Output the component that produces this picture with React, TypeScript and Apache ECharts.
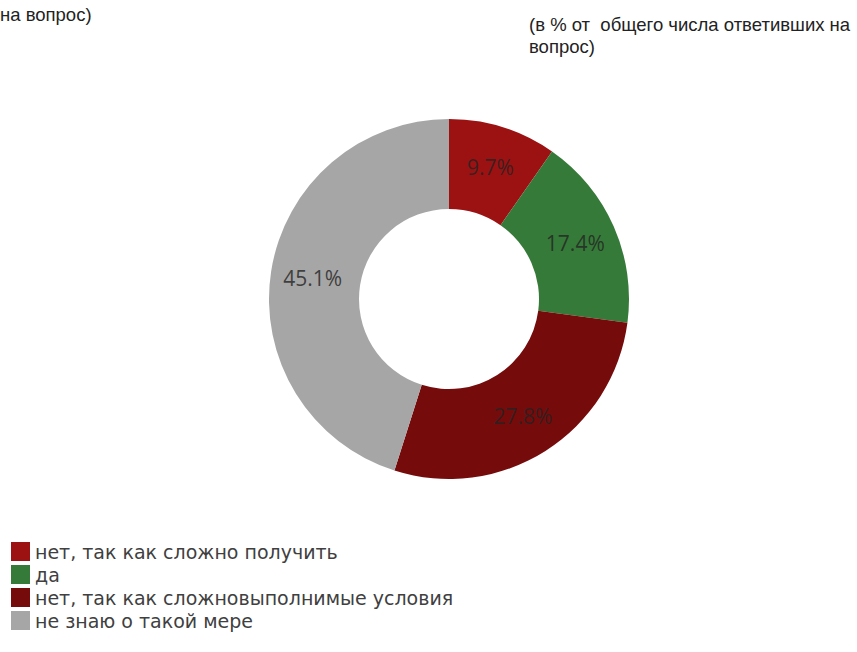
import React, { useEffect, useRef } from "react";
import * as echarts from "echarts";

const categories = [
  "нет, так как сложно получить",
  "да",
  "нет, так как сложновыполнимые условия",
  "не знаю о такой мере",
];
const values = [9.7, 17.4, 27.8, 45.1];
const colors = ["#9c1212", "#367a39", "#760b0b", "#a6a6a6"];
const subtitleRight = "(в % от  общего числа ответивших на\nвопрос)";
const subtitleLeft = "на вопрос)";

export default function App() {
  const ref = useRef<HTMLDivElement>(null);
  useEffect(() => {
    if (!ref.current) return;
    const chart = echarts.init(ref.current, null, { renderer: "svg" });
    chart.setOption({
      animation: false,
      backgroundColor: "#ffffff",
      color: colors,
      graphic: [
        {
          type: "text",
          x: 0,
          y: 14,
          style: {
            text: subtitleLeft,
            font: '18.5px "Liberation Sans", Arial, sans-serif',
            fill: "#222",
            textAlign: "left",
            textVerticalAlign: "middle",
          },
        },
        {
          type: "text",
          x: 529,
          y: 35,
          style: {
            text: subtitleRight,
            font: '18.5px "Liberation Sans", Arial, sans-serif',
            fill: "#222",
            lineHeight: 22,
            textVerticalAlign: "middle",
          },
        },
      ],
      legend: {
        orient: "vertical",
        left: 11,
        top: 542,
        padding: 0,
        icon: "rect",
        itemWidth: 19,
        itemHeight: 19,
        itemGap: 4,
        data: categories,
        textStyle: {
          fontFamily: '"DejaVu Sans", sans-serif',
          fontSize: 19,
          lineHeight: 19,
          color: "#404040",
          padding: [0, 0, 0, 0],
        },
      },
      series: [
        {
          type: "pie",
          center: [449, 299],
          radius: [90, 180],
          startAngle: 90,
          clockwise: true,
          avoidLabelOverlap: false,
          label: {
            show: true,
            position: "inside",
            formatter: (p: any) => p.value.toFixed(1) + "%",
            fontFamily: '"Open Sans", sans-serif',
            fontSize: 21,
            color: "rgba(35,35,35,0.8)",
          },
          labelLine: { show: false },
          itemStyle: { borderColor: "#ffffff", borderWidth: 0 },
          emphasis: { disabled: true },
          data: categories.map((name, i) => ({ name, value: values[i] })),
        },
      ],
    });
    return () => chart.dispose();
  }, []);
  return (
    <div
      ref={ref}
      style={{ position: "fixed", left: 0, top: 0, width: 857, height: 652 }}
    />
  );
}
